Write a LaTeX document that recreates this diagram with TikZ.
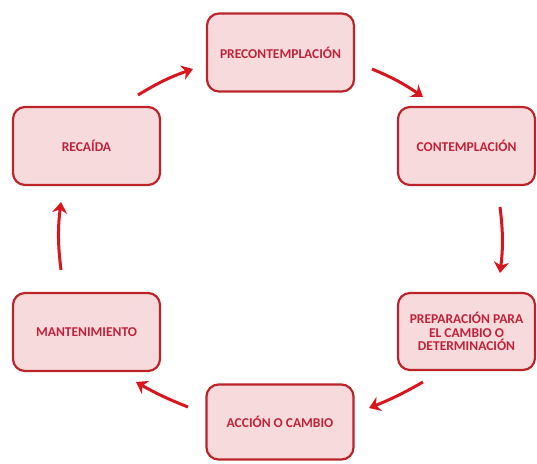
\documentclass[tikz,border=0pt]{standalone}
\usepackage{fontspec}
\setmainfont{Carlito}
\usetikzlibrary{arrows.meta}
\definecolor{boxfill}{HTML}{F6DADC}
\definecolor{boxline}{HTML}{BC2429}
\definecolor{boxtext}{HTML}{C0223A}
\definecolor{arr}{HTML}{D9161E}
\begin{document}
\begin{tikzpicture}[x=1pt,y=-1pt,
  stage/.style={draw=boxline, line width=2.2pt, fill=boxfill, rounded corners=12pt,
    minimum width=147pt, minimum height=78pt, inner sep=2pt, align=center,
    font=\bfseries\fontsize{13.5}{13.5}\selectfont, text=boxtext},
  cyc/.style={draw=arr, line width=3pt, -{Stealth[length=11pt,width=15pt,inset=3.5pt]}}]
\useasboundingbox (0,0) rectangle (537,463);
\node[stage] (pre) at (280.5,52.5) {PRECONTEMPLACIÓN};
\node[stage, minimum width=137pt] (con) at (466.5,146) {CONTEMPLACIÓN};
\node[stage, minimum width=137pt, minimum height=77pt] (prep) at (466.5,331.5) {PREPARACIÓN PARA\\EL CAMBIO O\\DETERMINACIÓN};
\node[stage, minimum height=75pt] (acc) at (280,422) {ACCIÓN O CAMBIO};
\node[stage] (man) at (86.5,332) {MANTENIMIENTO};
\node[stage] (rec) at (86.5,146) {RECAÍDA};
\coordinate (a1s) at (372,69); \coordinate (a1e) at (423,97);
\coordinate (a2s) at (500,207); \coordinate (a2e) at (500,273);
\coordinate (a3s) at (423,382); \coordinate (a3e) at (369,408);
\coordinate (a4s) at (188,407); \coordinate (a4e) at (136,382);
\coordinate (a5s) at (61,270); \coordinate (a5e) at (61,202);
\coordinate (a6s) at (138,95); \coordinate (a6e) at (193,69);
\draw[cyc] (a1s) to[bend left=6] (a1e);
\draw[cyc] (a2s) to[bend left=7] (a2e);
\draw[cyc] (a3s) to[bend left=4] (a3e);
\draw[cyc] (a4s) to[bend left=4] (a4e);
\draw[cyc] (a5s) to[bend left=7] (a5e);
\draw[cyc] (a6s) to[bend left=6] (a6e);
\end{tikzpicture}
\end{document}
